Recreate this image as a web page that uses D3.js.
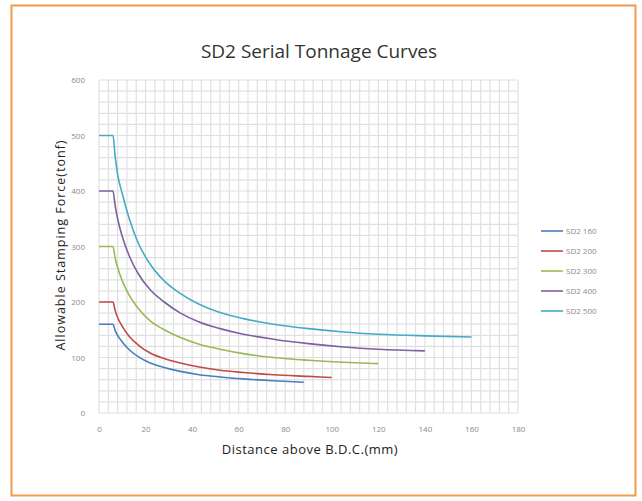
<!DOCTYPE html>
<html>
<head>
<meta charset="utf-8">
<script src="https://cdn.jsdelivr.net/npm/d3@7"></script>
<style>
  body { margin: 0; background: #fff; }
  text { font-family: "Open Sans", "DejaVu Sans", sans-serif; }
</style>
</head>
<body>
<div id="chart"></div>
<script>
var width = 642,
    height = 501;

// series names and colours
var seriesNames = ["SD2 160", "SD2 200", "SD2 300", "SD2 400", "SD2 500"];
var seriesColors = ["#4a7ebb", "#be4b48", "#98b954", "#7d60a0", "#46aac5"];

// [distance (mm), force (tonf)]
var sd160 = [[0,160],[6,160],[7,148],[8,140],[10,128],[13,114],[17,101],[22,90],[28,82],[35,75],[43,69],[52,65],[62,61.5],[75,58],[88,55.5]];
var sd200 = [[0,200],[6,200],[7,184],[8,172],[10,156],[13,138],[17,122],[22,108],[28,98],[35,90],[43,83],[52,77],[62,73],[75,69],[90,66],[100,64]];
var sd300 = [[0,300],[6,300],[7,278],[8,262],[10,238],[13,212],[17,188],[22,166],[28,150],[35,136],[43,124],[52,115],[62,107],[75,100],[90,95],[105,91.5],[120,89]];
var sd400 = [[0,400],[6,400],[7,372],[8,350],[10,318],[13,283],[17,250],[22,222],[28,200],[35,180],[43,164],[52,152],[62,142],[75,133],[90,125],[105,119],[120,115],[140,112]];
var sd500 = [[0,500],[6,500],[7,460],[8,430],[10,395],[13,350],[17,305],[22,268],[28,238],[35,215],[43,196],[52,181],[62,170],[75,160],[90,152],[105,146],[120,142],[140,139],[160,137]];
var seriesData = [sd160, sd200, sd300, sd400, sd500];

var xTicks = [0, 20, 40, 60, 80, 100, 120, 140, 160, 180];
var yTicks = [0, 100, 200, 300, 400, 500, 600];

var margin = {left: 99, right: 124, top: 80, bottom: 88};

var x = d3.scaleLinear()
  .domain([0, 180])
  .range([margin.left, width - margin.right]);

var y = d3.scaleLinear()
  .domain([0, 600])
  .range([height - margin.bottom, margin.top]);

var svg = d3.select("#chart").append("svg")
    .attr("width", width)
    .attr("height", height);

// orange frame
svg.append("rect")
  .attr("x", 11.5)
  .attr("y", 5.5)
  .attr("width", 624)
  .attr("height", 490)
  .style("fill", "#fff")
  .style("stroke", "#f29a4a")
  .style("stroke-width", 2);

svg.append("text")
  .attr("x", 319)
  .attr("y", 58)
  .style("text-anchor", "middle")
  .style("font-size", "19px")
  .style("fill", "#333")
  .text("SD2 Serial Tonnage Curves");

// graph paper grid
var grid = svg.append("g");
grid.selectAll("line.vx")
  .data(d3.range(0, 180.1, 4))
  .enter().append("line")
  .attr("x1", function(d){ return x(d); })
  .attr("x2", function(d){ return x(d); })
  .attr("y1", y(0))
  .attr("y2", y(600))
  .style("stroke", "#e0e0e0")
  .style("stroke-width", 1.2);

grid.selectAll("line.hy")
  .data(d3.range(0, 600.1, 20))
  .enter().append("line")
  .attr("x1", x(0))
  .attr("x2", x(180))
  .attr("y1", function(d){ return y(d); })
  .attr("y2", function(d){ return y(d); })
  .style("stroke", "#e0e0e0")
  .style("stroke-width", 1.2);

// axes (labels only)
var xAxis = svg.append("g")
  .attr("transform", "translate(0," + y(0) + ")")
  .call(d3.axisBottom(x).tickValues(xTicks).tickSize(0).tickPadding(13));
var yAxis = svg.append("g")
  .attr("transform", "translate(" + x(0) + ",0)")
  .call(d3.axisLeft(y).tickValues(yTicks).tickSize(0).tickPadding(14));
[xAxis, yAxis].forEach(function(a){
  a.select(".domain").remove();
  a.selectAll("text")
    .style("font-family", "\"Open Sans\", sans-serif")
    .style("font-size", "8px")
    .style("fill", "#8a8a8a");
});

svg.append("text")
  .attr("x", 310)
  .attr("y", 454)
  .style("text-anchor", "middle")
  .style("font-size", "13px")
  .style("letter-spacing", "0.5px")
  .style("fill", "#222")
  .text("Distance above B.D.C.(mm)");

svg.append("text")
  .attr("transform", "translate(65," + 245 + ") rotate(-90)")
  .style("text-anchor", "middle")
  .style("font-size", "12.5px")
  .style("letter-spacing", "1px")
  .style("fill", "#222")
  .text("Allowable Stamping Force(tonf)");

var line = d3.line()
  .curve(d3.curveMonotoneX)
  .x(function(d){ return x(d[0]); })
  .y(function(d){ return y(d[1]); });

svg.selectAll("path.series")
  .data(seriesData)
  .enter().append("path")
  .attr("class", "series")
  .attr("d", line)
  .style("fill", "none")
  .style("stroke", function(d, i){ return seriesColors[i]; })
  .style("stroke-width", 1.6);

// legend
var legend = svg.selectAll("g.legend")
  .data(seriesNames)
  .enter().append("g")
  .attr("class", "legend")
  .attr("transform", function(d, i){ return "translate(541," + (231 + i * 20) + ")"; });
legend.append("line")
  .attr("x1", 0).attr("x2", 22)
  .style("stroke", function(d, i){ return seriesColors[i]; })
  .style("stroke-width", 1.6);
legend.append("text")
  .attr("x", 25)
  .attr("dy", "0.35em")
  .style("font-size", "8px")
  .style("fill", "#8a8a8a")
  .text(function(d){ return d; });
</script>
</body>
</html>
